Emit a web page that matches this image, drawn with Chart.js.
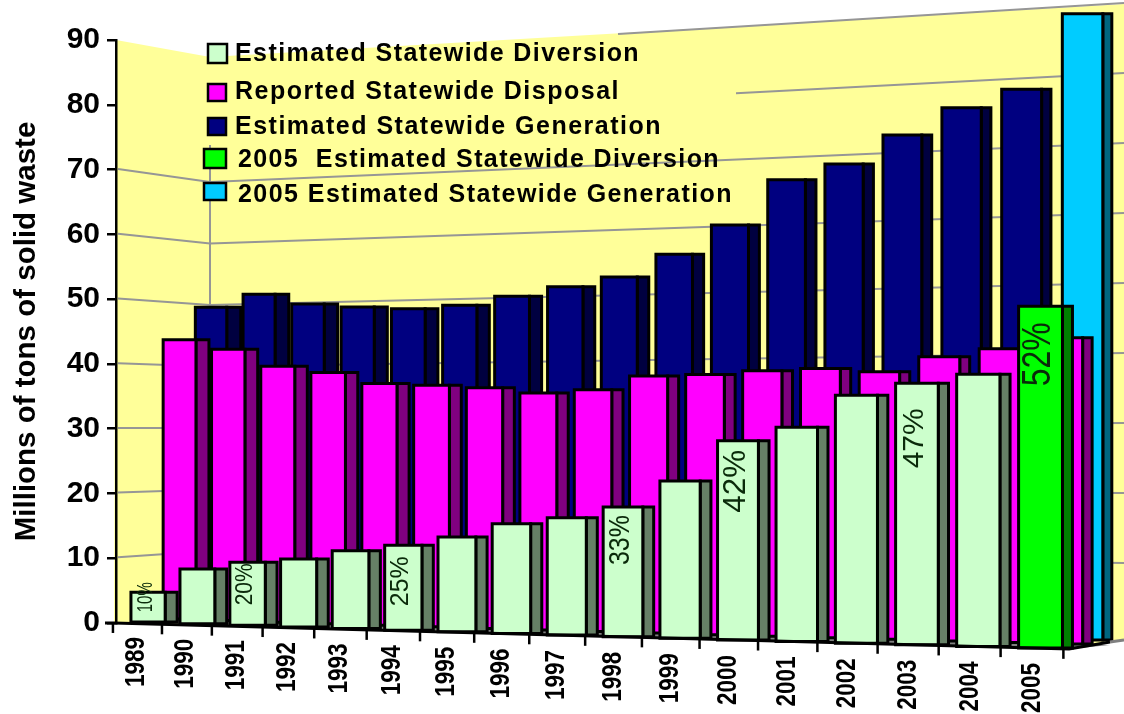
<!DOCTYPE html>
<html>
<head>
<meta charset="utf-8">
<title>Solid waste</title>
<script src="https://cdn.jsdelivr.net/npm/chart.js@4/dist/chart.umd.min.js"></script>
<style>
  body { margin: 0; background: #fff; }
  canvas { display: block; }
</style>
</head>
<body>
<canvas id="wasteChart" width="1124" height="714"></canvas>
<script>
const years = ['1989','1990','1991','1992','1993','1994','1995','1996','1997','1998','1999','2000','2001','2002','2003','2004','2005'];
const diversion = [4.6, 8.4, 9.6, 10.3, 11.7, 12.7, 14.1, 16.2, 17.2, 18.9, 22.8, 28.7, 30.7, 35.3, 37, 38.3, 47.8];
const disposal = [43.75, 42.2, 39.5, 38.5, 36.8, 36.5, 36.1, 35.3, 35.8, 37.8, 38, 38.5, 38.8, 38.3, 40.4, 41.5, 43];
const generation = [49, 50.9, 49.2, 48.6, 48.2, 48.6, 49.8, 51.1, 52.4, 55.6, 59.7, 66.1, 68.1, 72, 75.6, 77.9, 88.2];
const legendNames = [
  'Estimated Statewide Diversion',
  'Reported Statewide Disposal',
  'Estimated Statewide Generation',
  '2005  Estimated Statewide Diversion',
  '2005 Estimated Statewide Generation'
];
const pctYears = ['1989', '1991', '1994', '1998', '2000', '2003', '2005'];
const pctTexts = ['10%', '20%', '25%', '33%', '42%', '47%', '52%'];

// styles
const mint = '#CCFFCC', magenta = '#FF00FF', navy = '#000080', lime = '#00FF00', sky = '#00CCFF';
const legendColors = [mint, magenta, navy, lime, sky];
const legendBoxes = [[208,44,19,19],[208,84,18,17],[208,118,18,17],[204,149,22,19],[204,183,22,17]];
const legendText = [[235,54,405],[235,92,385],[235,127,427],[238,160,482],[238,195,495]];
const pctStyle = [[22,30,-10],[23,42,1],[25,50,11],[29,50,8],[32,63,9],[30,60,25],[40,64,16]];

// the picture is a perspective view, so the plain scale pixels get bent on the way to the screen
const depthOf = [0, 0.5, 1];   // diversion in front, generation at the back
const screenX = (t, d) => 148 + 48.9 * t + 0.43 * t * t + d * (63 - 1.31 * t);
const baseY = (t, d) => 622 + 1.625 * t - d * (6 + 0.125 * t);
const unitY = (t, d) => 6.47 + 0.0425 * t - d * (0.17 - 0.0075 * t);
const sideW = (t, d) => 12 + 2 * d - t * (2 + 3 * d) / 16;

// wall grid: left wall runs 118..210, back wall 210..1124
const wallY = (x, v) => x <= 210
  ? (622 - 6.47 * v) + (x - 118) / 92 * ((612.5 - 6.15 * v) - (622 - 6.47 * v))
  : (612.5 + 0.0224 * (x - 210)) - v * (6.15 + 0.00093 * (x - 210));

const perspectivePlugin = {
  id: 'perspective',
  beforeDraw(chart) {
    const ctx = chart.ctx;
    const y = chart.scales.y;
    ctx.save();
    ctx.fillStyle = '#FFFF99';
    ctx.beginPath();
    ctx.moveTo(116, 40);
    ctx.lineTo(210, 57);
    ctx.lineTo(1124, 4);
    ctx.lineTo(1124, 640);
    ctx.lineTo(1070, 649);
    ctx.lineTo(114, 623);
    ctx.closePath();
    ctx.fill();

    // grid, the legend hides the top rows on the left
    ctx.strokeStyle = '#969696';
    ctx.lineWidth = 2;
    y.ticks.forEach(tk => {
      if (tk.value === 0) return;
      ctx.beginPath();
      if (tk.value >= 80) {
        const from = tk.value === 90 ? 618 : 736;
        ctx.moveTo(from, wallY(from, tk.value));
      } else {
        ctx.moveTo(118, wallY(118, tk.value));
        ctx.lineTo(210, wallY(210, tk.value));
      }
      ctx.lineTo(1124, wallY(1124, tk.value));
      ctx.stroke();
    });
    ctx.beginPath();
    ctx.moveTo(210, 145);
    ctx.lineTo(210, 310);
    ctx.stroke();
    ctx.restore();
  },
  beforeDatasetsDraw(chart) {
    const ctx = chart.ctx;
    const area = chart.chartArea;
    const y = chart.scales.y;
    const catW = (area.right - area.left) / years.length;
    const tOf = el => (el.x - area.left) / catW - 0.5;
    ctx.save();

    // floor strip
    ctx.fillStyle = '#808080';
    ctx.beginPath();
    ctx.moveTo(164, baseY(0, 0.5));
    ctx.lineTo(1110, baseY(16.6, 0.5));
    ctx.lineTo(1070, 649);
    ctx.lineTo(164, baseY(0, 0) + 1);
    ctx.closePath();
    ctx.fill();

    // bars, back row first
    chart.data.datasets.map((ds, k) => k).reverse().forEach(k => {
      const ds = chart.data.datasets[k];
      const d = depthOf[k];
      chart.getDatasetMeta(k).data.forEach((el, i) => {
        const t = tOf(el);
        const half = el.width / catW / 2 - 0.02 * d;
        const x0 = screenX(t - half, d);
        const x1 = screenX(t + half, d);
        const yBase = baseY(t, d);
        const yTop = yBase - y.getValueForPixel(el.y) * unitY(t, d);
        const xs = x1 + sideW(t, d);
        ctx.lineWidth = 3;
        ctx.strokeStyle = '#000';
        ctx.lineJoin = 'miter';
        ctx.fillStyle = ds.sideColors[i];
        ctx.beginPath();
        ctx.rect(x1, yTop, xs - x1, yBase - yTop);
        ctx.fill();
        ctx.stroke();
        ctx.fillStyle = ds.backgroundColor[i];
        ctx.beginPath();
        ctx.rect(x0, yTop, x1 - x0, yBase - yTop);
        ctx.fill();
        ctx.stroke();
      });
    });

    // percent labels on the front row
    const front = chart.getDatasetMeta(0).data;
    ctx.fillStyle = '#0A2A0A';
    ctx.textAlign = 'right';
    ctx.textBaseline = 'middle';
    pctYears.forEach((yr, n) => {
      const el = front[years.indexOf(yr)];
      const t = tOf(el);
      const [size, len, gap] = pctStyle[n];
      const yTop = baseY(t, 0) - y.getValueForPixel(el.y) * unitY(t, 0);
      ctx.save();
      ctx.translate(screenX(t, 0) - 2, yTop + gap);
      ctx.rotate(-Math.PI / 2);
      ctx.font = size + 'px "Liberation Sans"';
      ctx.fillText(pctTexts[n], 0, 0, len);
      ctx.restore();
    });

    // base line, ticks, year labels
    ctx.strokeStyle = '#000';
    ctx.lineWidth = 3;
    ctx.beginPath();
    ctx.moveTo(105, 623);
    ctx.lineTo(114, 623);
    ctx.lineTo(1069, 649);
    ctx.lineTo(1110, 642);
    ctx.stroke();
    ctx.strokeStyle = '#808080';
    ctx.beginPath();
    ctx.moveTo(1110, 642);
    ctx.lineTo(1124, 640);
    ctx.stroke();
    ctx.strokeStyle = '#000';
    ctx.lineWidth = 2.5;
    ctx.fillStyle = '#000';
    years.concat(['']).forEach((yr, i) => {
      const left = screenX(i - 0.35, 0);
      const tx = left - 18;
      const ty = 623 + 0.0272 * (tx - 114);
      ctx.beginPath();
      ctx.moveTo(tx, ty);
      ctx.lineTo(tx, ty + 10);
      ctx.stroke();
      if (!yr) return;
      ctx.save();
      ctx.translate(left + 5 + 0.55 * i, baseY(i, 0) + 15);
      ctx.rotate(-Math.PI / 2);
      ctx.textAlign = 'right';
      ctx.textBaseline = 'middle';
      ctx.font = 'bold 28px "Liberation Sans"';
      ctx.fillText(yr, 0, 0, 50);
      ctx.restore();
    });

    // legend
    ctx.textAlign = 'left';
    ctx.textBaseline = 'middle';
    ctx.font = 'bold 25px "Liberation Sans"';
    legendNames.forEach((name, n) => {
      const [bx, by, bw, bh] = legendBoxes[n];
      const [tx, ty, tw] = legendText[n];
      ctx.fillStyle = legendColors[n];
      ctx.strokeStyle = '#000';
      ctx.lineWidth = 2.5;
      ctx.fillRect(bx, by, bw, bh);
      ctx.strokeRect(bx, by, bw, bh);
      ctx.fillStyle = '#000';
      ctx.letterSpacing = '0px';
      const gap = (tw - ctx.measureText(name).width) / name.length;
      ctx.letterSpacing = gap + 'px';
      ctx.fillText(name, tx, ty);
    });
    ctx.letterSpacing = '0px';
    ctx.restore();
    return false;   // bars are drawn above, not by the flat bar element
  }
};

const lastOther = (color, other) => years.map((yr, i) => i === years.length - 1 ? other : color);

new Chart(document.getElementById('wasteChart'), {
  type: 'bar',
  data: {
    labels: years,
    datasets: [
      { label: legendNames[0], data: diversion, backgroundColor: lastOther(mint, lime), sideColors: lastOther('#668066', '#008000') },
      { label: legendNames[1], data: disposal, backgroundColor: lastOther(magenta, magenta), sideColors: lastOther('#800080', '#800080') },
      { label: legendNames[2], data: generation, backgroundColor: lastOther(navy, sky), sideColors: lastOther('#000040', '#006680') }
    ]
  },
  options: {
    responsive: false,
    animation: false,
    devicePixelRatio: 1,
    layout: { padding: { top: 40, bottom: 91, right: 56, left: 0 } },
    datasets: { bar: { grouped: false, categoryPercentage: 1, barPercentage: 0.7 } },
    plugins: { legend: { display: false }, tooltip: { enabled: false } },
    scales: {
      x: { display: false },
      y: {
        min: 0,
        max: 90,
        afterFit: s => { s.width = 116; },
        ticks: { stepSize: 10, autoSkip: false, color: '#000', padding: 7, font: { family: 'Liberation Sans', weight: 'bold', size: 30 } },
        grid: { drawOnChartArea: false, tickLength: 9, color: '#000', lineWidth: 2.5 },
        border: { color: '#000', width: 2.5 },
        title: {
          display: true,
          text: 'Millions of tons of solid waste',
          color: '#000',
          padding: { top: 9, bottom: 0 },
          font: { family: 'Liberation Sans', weight: 'bold', size: 29.5 }
        }
      }
    }
  },
  plugins: [perspectivePlugin]
});
</script>
</body>
</html>
